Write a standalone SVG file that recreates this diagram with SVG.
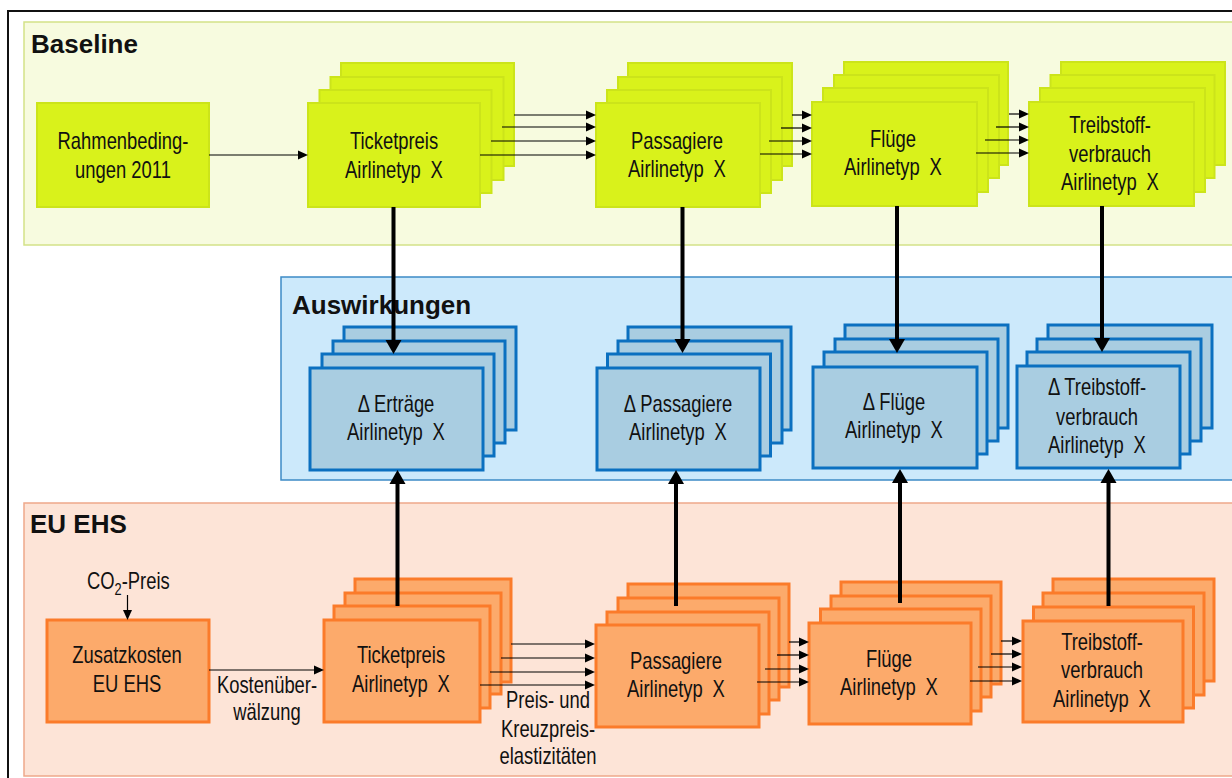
<svg xmlns="http://www.w3.org/2000/svg" width="1232" height="778" viewBox="0 0 1232 778">
<style>
.pb{fill:#f7fbdf;stroke:#d3e288;stroke-width:1.5}
.pa{fill:#cce9fb;stroke:#3d8ac6;stroke-width:1.5}
.pe{fill:#fde4d7;stroke:#eea88a;stroke-width:1.5}
.g{fill:#d9f21b;stroke:#cce41a;stroke-width:2}
.b{fill:#a9cde1;stroke:#0b70c0;stroke-width:3}
.o{fill:#fcaa6b;stroke:#fb7b2a;stroke-width:3}
.t{font-family:'Liberation Sans',Arial,sans-serif;font-size:23px;fill:#111;text-anchor:middle}
.h{font-family:'Liberation Sans',Arial,sans-serif;font-weight:bold;font-size:26px;fill:#111}
.th{stroke:#000;stroke-width:1.2;fill:none;marker-end:url(#a)}
.tk{stroke:#000;stroke-width:4;fill:none;marker-end:url(#A)}
</style>
<defs>
<marker id="a" markerUnits="userSpaceOnUse" markerWidth="10" markerHeight="10" refX="0" refY="5" orient="auto" overflow="visible"><path d="M0,0.5 L10,5 L0,9.5 z" fill="#000"/></marker>
<marker id="A" markerUnits="userSpaceOnUse" markerWidth="14" markerHeight="16" refX="0" refY="8" orient="auto" overflow="visible"><path d="M0,0 L14,8 L0,16 z" fill="#000"/></marker>
</defs>
<rect x="0" y="0" width="1232" height="778" fill="#fff"/>
<rect x="8" y="11" width="1300" height="800" fill="none" stroke="#111" stroke-width="2"/>

<g id="panel-baseline"><rect class="pb" x="24" y="22" width="1230" height="223"/><text class="h" x="31" y="53">Baseline</text></g>
<g id="panel-auswirkungen"><rect class="pa" x="281" y="277" width="970" height="203"/><text class="h" x="292" y="314">Auswirkungen</text></g>
<g id="panel-euehs"><rect class="pe" x="24" y="503" width="1230" height="273"/><text class="h" x="30" y="533">EU EHS</text></g>

<g id="rahmen"><rect class="g" x="37" y="103" width="172" height="104"/><text class="t" transform="translate(123 149) scale(0.8 1)">Rahmenbeding-</text><text class="t" transform="translate(123 178) scale(0.8 1)">ungen 2011</text></g>

<g id="ticket-base"><rect class="g" x="341" y="63" width="173" height="103"/><rect class="g" x="330.5" y="77" width="173" height="103"/><rect class="g" x="319.5" y="90" width="172" height="103"/><rect class="g" x="308" y="103" width="172" height="104"/><text class="t" transform="translate(394 149) scale(0.8 1)">Ticketpreis</text><text class="t" transform="translate(394 178) scale(0.8 1)">Airlinetyp <tspan dx="6">X</tspan></text></g>

<g id="pass-base"><rect class="g" x="628" y="63" width="164" height="103"/><rect class="g" x="618" y="77" width="164" height="103"/><rect class="g" x="607" y="90" width="164" height="103"/><rect class="g" x="596" y="103" width="164" height="104"/><text class="t" transform="translate(677 149) scale(0.8 1)">Passagiere</text><text class="t" transform="translate(677 177) scale(0.8 1)">Airlinetyp <tspan dx="6">X</tspan></text></g>

<g id="fluege-base"><rect class="g" x="844" y="62" width="164" height="103"/><rect class="g" x="834" y="75" width="165" height="103"/><rect class="g" x="823" y="88" width="165" height="104"/><rect class="g" x="812" y="102" width="165" height="104"/><text class="t" transform="translate(893 147) scale(0.8 1)">Flüge</text><text class="t" transform="translate(893 175) scale(0.8 1)">Airlinetyp <tspan dx="6">X</tspan></text></g>

<g id="treib-base"><rect class="g" x="1061" y="62" width="164" height="103"/><rect class="g" x="1050.5" y="75" width="164" height="103"/><rect class="g" x="1040" y="88" width="165" height="104"/><rect class="g" x="1029" y="102" width="165" height="104"/><text class="t" transform="translate(1110 133) scale(0.8 1)">Treibstoff-</text><text class="t" transform="translate(1110 162) scale(0.8 1)">verbrauch</text><text class="t" transform="translate(1110 190) scale(0.8 1)">Airlinetyp <tspan dx="6">X</tspan></text></g>

<g id="delta-ertraege"><rect class="b" x="344" y="327" width="172" height="103"/><rect class="b" x="333" y="341" width="172" height="102"/><rect class="b" x="322" y="354" width="172" height="102"/><rect class="b" x="310" y="368" width="173" height="102"/><text class="t" transform="translate(396 412) scale(0.8 1)">Δ Erträge</text><text class="t" transform="translate(396 440) scale(0.8 1)">Airlinetyp <tspan dx="6">X</tspan></text></g>

<g id="delta-pass"><rect class="b" x="628" y="327" width="163" height="103"/><rect class="b" x="618" y="341" width="164" height="102"/><rect class="b" x="607.5" y="354" width="163" height="102"/><rect class="b" x="597" y="368" width="163" height="102"/><text class="t" transform="translate(678 412) scale(0.8 1)">Δ Passagiere</text><text class="t" transform="translate(678 440) scale(0.8 1)">Airlinetyp <tspan dx="6">X</tspan></text></g>

<g id="delta-fluege"><rect class="b" x="845" y="325" width="163" height="103"/><rect class="b" x="835" y="339" width="163" height="102"/><rect class="b" x="824" y="352" width="163" height="102"/><rect class="b" x="813" y="367" width="164" height="101"/><text class="t" transform="translate(894 410) scale(0.8 1)">Δ Flüge</text><text class="t" transform="translate(894 438) scale(0.8 1)">Airlinetyp <tspan dx="6">X</tspan></text></g>

<g id="delta-treib"><rect class="b" x="1048" y="325" width="164" height="103"/><rect class="b" x="1037" y="339" width="164" height="102"/><rect class="b" x="1027" y="352" width="163" height="102"/><rect class="b" x="1017" y="366" width="163" height="102"/><text class="t" transform="translate(1097 395) scale(0.8 1)">Δ Treibstoff-</text><text class="t" transform="translate(1097 425) scale(0.8 1)">verbrauch</text><text class="t" transform="translate(1097 453) scale(0.8 1)">Airlinetyp <tspan dx="6">X</tspan></text></g>

<g id="co2"><text class="t" transform="translate(87 589) scale(0.8 1)" style="text-anchor:start">CO<tspan font-size="16" dy="6">2</tspan><tspan dy="-6">-Preis</tspan></text></g>

<g id="zusatz"><rect class="o" x="47" y="620" width="162" height="102"/><text class="t" transform="translate(127 663) scale(0.8 1)">Zusatzkosten</text><text class="t" transform="translate(127 692) scale(0.8 1)">EU EHS</text></g>

<g id="ticket-eu"><rect class="o" x="355" y="579" width="156" height="103"/><rect class="o" x="345" y="593" width="156" height="101"/><rect class="o" x="334" y="606" width="156" height="102"/><rect class="o" x="324" y="620" width="156" height="102"/><text class="t" transform="translate(401 663) scale(0.8 1)">Ticketpreis</text><text class="t" transform="translate(401 692) scale(0.8 1)">Airlinetyp <tspan dx="6">X</tspan></text></g>

<g id="pass-eu"><rect class="o" x="628" y="584" width="161" height="103"/><rect class="o" x="618" y="598" width="161" height="102"/><rect class="o" x="607" y="612" width="162" height="102"/><rect class="o" x="596" y="625" width="163" height="102"/><text class="t" transform="translate(676 669) scale(0.8 1)">Passagiere</text><text class="t" transform="translate(676 697) scale(0.8 1)">Airlinetyp <tspan dx="6">X</tspan></text></g>

<g id="fluege-eu"><rect class="o" x="841" y="582" width="160" height="102"/><rect class="o" x="831" y="596" width="160" height="101"/><rect class="o" x="820.5" y="609" width="160.5" height="102"/><rect class="o" x="809" y="623" width="162" height="101"/><text class="t" transform="translate(889 667) scale(0.8 1)">Flüge</text><text class="t" transform="translate(889 695) scale(0.8 1)">Airlinetyp <tspan dx="6">X</tspan></text></g>

<g id="treib-eu"><rect class="o" x="1053" y="579" width="161" height="102"/><rect class="o" x="1043" y="593" width="161" height="102"/><rect class="o" x="1033.5" y="607" width="160" height="101"/><rect class="o" x="1023" y="621" width="160" height="101"/><text class="t" transform="translate(1102 650) scale(0.8 1)">Treibstoff-</text><text class="t" transform="translate(1102 678) scale(0.8 1)">verbrauch</text><text class="t" transform="translate(1102 707) scale(0.8 1)">Airlinetyp <tspan dx="6">X</tspan></text></g>

<g id="labels"><text class="t" transform="translate(267 693) scale(0.8 1)">Kostenüber-</text><text class="t" transform="translate(267 720) scale(0.8 1)">wälzung</text><text class="t" transform="translate(548 708) scale(0.8 1)">Preis- und</text><text class="t" transform="translate(548 737) scale(0.8 1)">Kreuzpreis-</text><text class="t" transform="translate(548 764) scale(0.8 1)">elastizitäten</text></g>

<g id="connectors">
<line class="th" x1="209" y1="155" x2="298" y2="155"/>
<line class="th" x1="514" y1="115" x2="586" y2="115"/>
<line class="th" x1="502" y1="127" x2="586" y2="127"/>
<line class="th" x1="491" y1="141" x2="586" y2="141"/>
<line class="th" x1="480" y1="155" x2="586" y2="155"/>
<line class="th" x1="792" y1="115" x2="802" y2="115"/>
<line class="th" x1="781" y1="128" x2="802" y2="128"/>
<line class="th" x1="769" y1="141" x2="802" y2="141"/>
<line class="th" x1="760" y1="154" x2="802" y2="154"/>
<line class="th" x1="1009" y1="114" x2="1019" y2="114"/>
<line class="th" x1="996" y1="127" x2="1019" y2="127"/>
<line class="th" x1="985" y1="140" x2="1019" y2="140"/>
<line class="th" x1="976" y1="153" x2="1019" y2="153"/>
<line class="tk" x1="393.5" y1="207" x2="393.5" y2="340"/>
<line class="tk" x1="682.5" y1="207" x2="682.5" y2="339"/>
<line class="tk" x1="897" y1="206" x2="897" y2="339"/>
<line class="tk" x1="1102" y1="206" x2="1102" y2="338"/>
<line class="tk" x1="397.5" y1="606" x2="397.5" y2="484"/>
<line class="tk" x1="676" y1="606" x2="676" y2="484"/>
<line class="tk" x1="900" y1="603" x2="900" y2="483"/>
<line class="tk" x1="1108.5" y1="606" x2="1108.5" y2="483"/>
<line class="th" x1="127.5" y1="595" x2="127.5" y2="610"/>
<line class="th" x1="209" y1="670" x2="314" y2="670"/>
<line class="th" x1="511" y1="644" x2="585" y2="644"/>
<line class="th" x1="501" y1="658" x2="585" y2="658"/>
<line class="th" x1="490" y1="672" x2="585" y2="672"/>
<line class="th" x1="480" y1="685" x2="585" y2="685"/>
<line class="th" x1="789" y1="642" x2="799" y2="642"/>
<line class="th" x1="777" y1="655" x2="799" y2="655"/>
<line class="th" x1="765" y1="669" x2="799" y2="669"/>
<line class="th" x1="757" y1="682" x2="799" y2="682"/>
<line class="th" x1="1001" y1="641" x2="1012" y2="641"/>
<line class="th" x1="991" y1="654" x2="1012" y2="654"/>
<line class="th" x1="978" y1="667" x2="1012" y2="667"/>
<line class="th" x1="970" y1="681" x2="1012" y2="681"/>
</g>
</svg>
